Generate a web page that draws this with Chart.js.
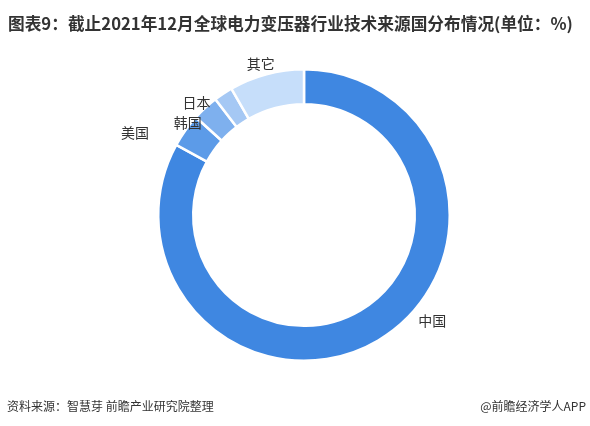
<!DOCTYPE html>
<html>
<head>
<meta charset="utf-8">
<script src="https://cdn.jsdelivr.net/npm/chart.js@4/dist/chart.umd.min.js"></script>
<style>
  html, body { margin: 0; padding: 0; background: #fff; }
  #wrap { position: relative; width: 590px; height: 426px; overflow: hidden; }
  #chart { position: absolute; left: 0; top: 0; }
  .title {
    position: absolute; left: 8px; top: 11px; white-space: nowrap;
    font: bold 16.7px "Noto Sans CJK SC", sans-serif; color: #333;
  }
  .src {
    position: absolute; left: 7px; top: 397px; white-space: nowrap;
    font: 12px "Noto Sans CJK SC", sans-serif; color: #333;
  }
  .app {
    position: absolute; right: 4px; top: 397px; white-space: nowrap;
    font: 12px "Noto Sans CJK SC", sans-serif; color: #333;
  }
</style>
</head>
<body>
<div id="wrap">
  <canvas id="chart" width="590" height="426"></canvas>
  <div class="title">图表9：截止2021年12月全球电力变压器行业技术来源国分布情况(单位：%)</div>
  <div class="src">资料来源：智慧芽 前瞻产业研究院整理</div>
  <div class="app">@前瞻经济学人APP</div>
</div>
<script>
// 技术来源国分布 (%), clockwise from 12 o'clock
const countries = ["中国", "美国", "韩国", "日本", "其它"]
const shares = [83.0, 3.7, 2.9, 2.1, 8.3]
const sliceColors = ["#3F87E1", "#5C9BE8", "#7EB0EE", "#A5C8F4", "#C6DEFA"]

// label nudges from the mid-angle anchor point, to keep small labels apart
const labelNudge = [[47, -32], [-39, 10], [-8, 25], [-19, 21], [-2, 3]]

const outsideLabels = {
  id: "outsideLabels",
  afterDatasetsDraw(chart) {
    const ctx = chart.ctx
    const arcs = chart.getDatasetMeta(0).data
    ctx.save()
    ctx.font = "14px 'Noto Sans CJK SC', sans-serif"
    ctx.fillStyle = "#333"
    ctx.textAlign = "center"
    ctx.textBaseline = "middle"
    arcs.forEach((arc, i) => {
      const { x, y, startAngle, endAngle, outerRadius } = arc.getProps(["x", "y", "startAngle", "endAngle", "outerRadius"], true)
      const mid = (startAngle + endAngle) / 2
      const r = outerRadius + 14
      const [dx, dy] = labelNudge[i]
      ctx.fillText(countries[i], x + Math.cos(mid) * r + dx, y + Math.sin(mid) * r + dy)
    })
    ctx.restore()
  },
}

new Chart(document.getElementById("chart"), {
  type: "doughnut",
  data: {
    labels: countries,
    datasets: [{
      data: shares,
      backgroundColor: sliceColors,
      borderColor: "#fff",
      borderWidth: 2.5,
    }],
  },
  options: {
    responsive: false,
    animation: false,
    cutout: "76%",
    layout: { padding: { left: 157, right: 139, top: 68, bottom: 64 } },
    plugins: {
      legend: { display: false },
      tooltip: { enabled: false },
    },
  },
  plugins: [outsideLabels],
})
</script>
</body>
</html>
